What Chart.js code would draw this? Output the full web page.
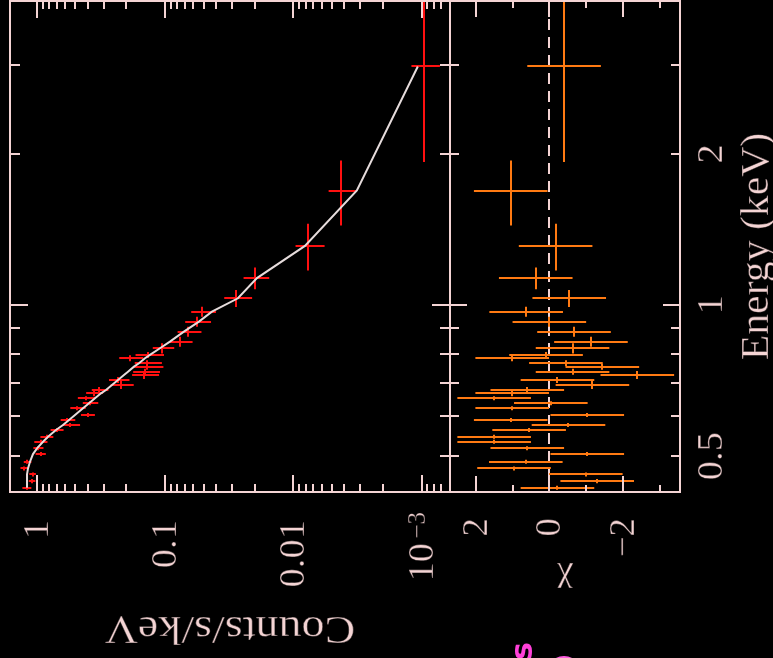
<!DOCTYPE html>
<html><head><meta charset="utf-8">
<script src="https://cdn.jsdelivr.net/npm/chart.js@4.4.1/dist/chart.umd.min.js"></script>
<style>
html,body{margin:0;padding:0;background:#000;overflow:hidden;}
#wrap{position:relative;width:773px;height:658px;background:#000;}
#wrap canvas{position:absolute;left:0;top:0;}
</style></head><body>
<div id="wrap"><canvas id="spec" width="773" height="658"></canvas><canvas id="resid" width="773" height="658"></canvas></div>
<script>
// ---- data ----
const energyKeV = [2.985,1.69,1.311,1.131,1.031,0.9697,0.9262,0.8847,0.8450,0.8198,0.7952,0.7832,0.7654,0.7535,0.7362,0.7251,0.7087,0.6926,0.6769,0.6668,0.6517,0.6369,0.6224,0.6036,0.5899,0.5765,0.5635,0.5465,0.5341,0.5181,0.5047,0.4872,0.4726,0.4598,0.4458,0.4323];
const energyHalfWidth = [1.06,0.25,0.14,0.056,0.04,0.022,0.021,0.020,0.019,0.019,0.011,0.011,0.0105,0.0104,0.0101,0.0133,0.0098,0.0127,0.0093,0.0092,0.006,0.0058,0.0057,0.0055,0.0054,0.0053,0.0052,0.005,0.0049,0.0048,0.0046,0.0045,0.0043,0.0042,0.0041,0.004];
const countsRate = [9.59e-4,4.25e-3,7.65e-3,0.0199,0.02773,0.05124,0.05665,0.06586,0.07644,0.1046,0.1357,0.1875,0.1389,0.1389,0.1432,0.1458,0.2312,0.2203,0.3241,0.3577,0.4128,0.3842,0.4809,0.4018,0.5754,0.5452,0.6984,0.8387,0.9341,0.9735,0.9341,1.180,1.245,1.078,1.088,1.197];
const countsErr = [2.4e-4,1.05e-3,1.95e-3,0.0045,0.0068,0.0112,0.0129,0.0139,0.0155,0.0199,0.0339,0.0398,0.0332,0.036,0.0338,0.0346,0.042,0.045,0.048,0.054,0.065,0.053,0.066,0.050,0.075,0.086,0.081,0.097,0.11,0.088,0.085,0.081,0.093,0.064,0.065,0.096];
const modelRate = [1.069e-3,3.193e-3,8.11e-3,0.01919,0.0270,0.04305,0.05436,0.0712,0.0915,0.1094,0.1310,0.1432,0.1595,0.1745,0.1943,0.2088,0.2325,0.2590,0.2884,0.3155,0.3513,0.3913,0.4357,0.5029,0.5602,0.6238,0.7075,0.8164,0.8931,0.9947,1.069,1.128,1.169,1.190,1.190,1.190];
const chiResidual = [-0.40,1.05,-0.17,0.37,-0.54,0.63,0.0,-0.67,-1.13,-0.63,0.09,1.01,-0.45,-1.44,-0.63,-2.39,-0.22,-1.17,0.60,1.01,1.50,-0.04,1.01,-1.03,1.05,-0.52,0.55,1.50,1.50,0.60,-1.03,0.64,0.96,-0.99,-1.30,-0.22];
const chiErr = [1,1,1,1,1,1,1,1,1,1,1,1,1,1,1,1,1,1,1,1,1,1,1,1,1,1,1,1,1,1,1,1,1,1,1,1];

const countTickValues = [1,0.1,0.01,0.001];
const countTickLabels = ['1','0.1','0.01','10^-3'];
const energyTickValues = [0.5,1,2];
const energyTickLabels = ['0.5','1','2'];
const energyMinorTicks = [0.5,0.6,0.7,0.8,0.9,2,3];
const chiTickValues = [2,0,-2];
const chiTickLabels = ['2','0','\u22122'];
const chiMinorTicks = [1,-1,-3];

const xTitle = 'Energy (keV)';
const yTitle = 'Counts/s/keV';
const chiTitle = '\u03c7';

// ---- styles ----
const FG = '#f4d4d4';
const FONT = '"Liberation Serif", "DejaVu Serif", serif';
const RED = '#ff1010';
const ORANGE = '#ff7a12';

function rtext(ctx, s, x, y, rot, size, align, base, stretch, color, font) {
  ctx.save();
  ctx.translate(x, y);
  ctx.rotate(rot);
  ctx.font = font || (size + 'px ' + FONT);
  ctx.textAlign = align; ctx.textBaseline = base;
  ctx.scale(stretch || 1, 1);
  ctx.fillStyle = color || FG;
  ctx.fillText(s, 0, 0);
  if (!color) { // thin the strokes a little, like the plotter font
    ctx.strokeStyle = 'rgba(0,0,0,0.55)'; ctx.lineWidth = 0.8;
    ctx.strokeText(s, 0, 0);
  }
  ctx.restore();
}
function frame(ctx, a) {
  ctx.save(); ctx.strokeStyle = FG; ctx.lineWidth = 2;
  ctx.strokeRect(a.left, a.top, a.right - a.left, a.bottom - a.top);
  ctx.restore();
}
function vTicks(ctx, sc, vals, a, len) {
  ctx.save(); ctx.strokeStyle = FG; ctx.lineWidth = 2;
  vals.forEach(v => {
    const p = Math.round(sc.getPixelForValue(v));
    if (p < a.left + 2 || p > a.right - 2) return;
    ctx.beginPath();
    ctx.moveTo(p, a.bottom); ctx.lineTo(p, a.bottom - len);
    ctx.moveTo(p, a.top); ctx.lineTo(p, a.top + len);
    ctx.stroke();
  });
  ctx.restore();
}
function hTicks(ctx, sc, vals, a, len) {
  ctx.save(); ctx.strokeStyle = FG; ctx.lineWidth = 2;
  vals.forEach(v => {
    const p = Math.round(sc.getPixelForValue(v));
    if (p < a.top + 2 || p > a.bottom - 2) return;
    ctx.beginPath();
    ctx.moveTo(a.left, p); ctx.lineTo(a.left + len, p);
    ctx.moveTo(a.right, p); ctx.lineTo(a.right - len, p);
    ctx.stroke();
  });
  ctx.restore();
}
function clipArea(ctx, a) { ctx.beginPath(); ctx.rect(a.left, a.top, a.right - a.left, a.bottom - a.top); ctx.clip(); }
function cross(ctx, xs, ys, cx, cy, xv, yv, xe, ye) {
  const px = Math.round(xs.getPixelForValue(xv)), py = Math.round(ys.getPixelForValue(yv));
  const x1 = xs.getPixelForValue(xv + xe[0]), x2 = xs.getPixelForValue(xe[1]);
  const y1 = ys.getPixelForValue(yv - ye), y2 = ys.getPixelForValue(yv + ye);
  ctx.beginPath(); ctx.moveTo(x1, py); ctx.lineTo(x2, py); ctx.moveTo(px, y1); ctx.lineTo(px, y2); ctx.stroke();
}

const countMinor = [];
for (let k = -4; k <= 0; k++) for (let d = 2; d <= 9; d++) countMinor.push(d * Math.pow(10, k));

const specPlugin = {
  id: 'specDecor',
  beforeDraw(chart) {
    const ctx = chart.ctx; ctx.save(); ctx.fillStyle = '#000'; ctx.fillRect(0, 0, chart.width, chart.height); ctx.restore();
  },
  beforeDatasetsDraw(chart) {
    const {ctx, chartArea: a, scales: {x, y}} = chart;
    ctx.save(); clipArea(ctx, a);
    ctx.strokeStyle = RED; ctx.lineWidth = 2;
    energyKeV.forEach((e, i) => {
      cross(ctx, x, y, 0, 0, countsRate[i], e, [countsErr[i], Math.max(countsRate[i] - countsErr[i], 1e-6)], energyHalfWidth[i]);
    });
    ctx.restore();
  },
  afterDatasetsDraw(chart) {
    const {ctx, chartArea: a, scales: {x, y}} = chart;
    frame(ctx, a);
    vTicks(ctx, x, countTickValues, a, 17);
    vTicks(ctx, x, countMinor, a, 8);
    hTicks(ctx, y, [1], a, 18);
    hTicks(ctx, y, energyMinorTicks, a, 10);
    countTickValues.forEach((v, i) => {
      const px = x.getPixelForValue(v);
      const lab = countTickLabels[i];
      if (lab === '10^-3') {
        rtext(ctx, '10', px + 11, a.bottom + 51, -Math.PI / 2, 35, 'right', 'alphabetic', 1.1);
        rtext(ctx, '\u22123', px + 3, a.bottom + 20, -Math.PI / 2, 25, 'right', 'alphabetic', 1.0);
      } else {
        rtext(ctx, lab, px + 11, a.bottom + 28, -Math.PI / 2, 35, 'right', 'alphabetic', 1.1);
      }
    });
    rtext(ctx, yTitle, (a.left + a.right) / 2, 617, Math.PI, 39, 'center', 'alphabetic', 1.18);
  }
};

const residPlugin = {
  id: 'residDecor',
  beforeDatasetsDraw(chart) {
    const {ctx, chartArea: a, scales: {x, y}} = chart;
    ctx.save(); clipArea(ctx, a);
    const z = Math.round(x.getPixelForValue(0));
    ctx.strokeStyle = FG; ctx.lineWidth = 2; ctx.setLineDash([11, 7]);
    ctx.beginPath(); ctx.moveTo(z, a.top); ctx.lineTo(z, a.bottom); ctx.stroke();
    ctx.setLineDash([]);
    ctx.strokeStyle = ORANGE; ctx.lineWidth = 2;
    energyKeV.forEach((e, i) => {
      cross(ctx, x, y, 0, 0, chiResidual[i], e, [chiErr[i], chiResidual[i] - chiErr[i]], energyHalfWidth[i]);
    });
    ctx.restore();
  },
  afterDatasetsDraw(chart) {
    const {ctx, chartArea: a, scales: {x, y}} = chart;
    frame(ctx, a);
    vTicks(ctx, x, chiTickValues, a, 16);
    vTicks(ctx, x, chiMinorTicks, a, 7);
    hTicks(ctx, y, [1], a, 17);
    hTicks(ctx, y, energyMinorTicks, a, 9);
    chiTickValues.forEach((v, i) => {
      const px = x.getPixelForValue(v);
      rtext(ctx, chiTickLabels[i], px + 11, a.bottom + 26, -Math.PI / 2, 35, 'right', 'alphabetic', 1.05);
    });
    energyTickValues.forEach((v, i) => {
      const py = y.getPixelForValue(v);
      rtext(ctx, energyTickLabels[i], a.right + 42, py, -Math.PI / 2, 35, 'center', 'alphabetic', 1.1);
    });
    rtext(ctx, xTitle, 768, (a.top + a.bottom) / 2, -Math.PI / 2, 39, 'center', 'alphabetic', 1.07);
    rtext(ctx, chiTitle, (a.left + a.right) / 2, 580, Math.PI, 36, 'center', 'middle', 1.0);
    // partially visible magenta marks at the bottom edge
    rtext(ctx, 's', 532, 651, -Math.PI / 2, 30, 'center', 'alphabetic', 1.0, '#ff40d8', 'bold 30px "DejaVu Sans", sans-serif');
    ctx.save(); ctx.strokeStyle = '#ff5ce0'; ctx.lineWidth = 6;
    ctx.beginPath(); ctx.arc(564, 673, 14, 0, Math.PI * 2); ctx.stroke(); ctx.restore();
  }
};

const common = {
  responsive: false, animation: false, devicePixelRatio: 1, events: [],
  plugins: { legend: { display: false }, tooltip: { enabled: false } }
};

new Chart(document.getElementById('spec'), {
  type: 'scatter',
  data: { datasets: [
    { label: 'data', data: energyKeV.map((e, i) => ({x: countsRate[i], y: e})), pointRadius: 0, showLine: false },
    { label: 'model', data: energyKeV.map((e, i) => ({x: modelRate[i], y: e})), showLine: true, borderColor: '#e6dcdc', borderWidth: 2, pointRadius: 0, tension: 0, fill: false }
  ]},
  options: Object.assign({}, common, {
    layout: { padding: { left: 10, right: 323, top: 1, bottom: 166 } },
    scales: {
      x: { type: 'logarithmic', reverse: true, min: 6.02e-4, max: 1.615, display: false },
      y: { type: 'logarithmic', min: 0.4241, max: 4.03, display: false }
    }
  }),
  plugins: [specPlugin]
});

new Chart(document.getElementById('resid'), {
  type: 'scatter',
  data: { datasets: [
    { label: 'residuals', data: energyKeV.map((e, i) => ({x: chiResidual[i], y: e})), pointRadius: 0, showLine: false }
  ]},
  options: Object.assign({}, common, {
    layout: { padding: { left: 450, right: 93, top: 1, bottom: 166 } },
    scales: {
      x: { type: 'linear', reverse: true, min: -3.55, max: 2.70, display: false },
      y: { type: 'logarithmic', min: 0.4241, max: 4.03, display: false }
    }
  }),
  plugins: [residPlugin]
});
</script>
</body></html>
